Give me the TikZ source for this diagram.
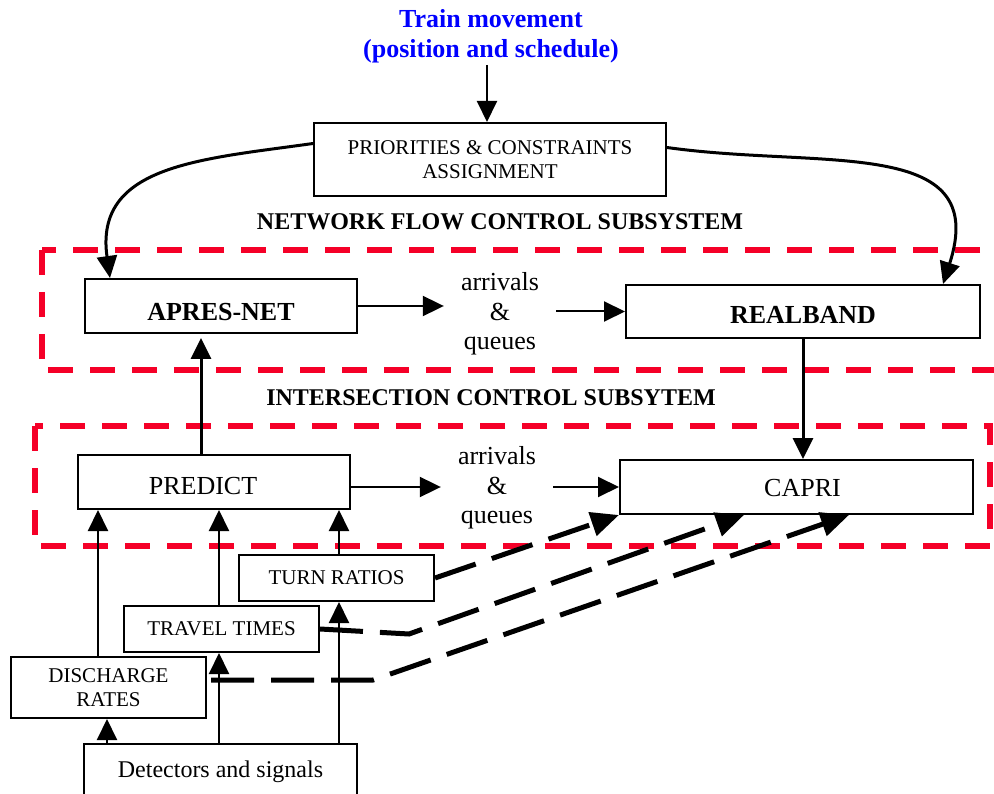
\documentclass[tikz,border=0pt]{standalone}
\usepackage{fontspec}
\setmainfont{Liberation Serif}
\usetikzlibrary{arrows.meta}
\definecolor{zonered}{RGB}{245,0,40}
\definecolor{titleblue}{RGB}{0,0,255}
% lower a label inside its box without changing the box size
\newcommand{\lowered}[2]{\raisebox{-#1}[\height][\depth]{#2}}
\begin{document}
\begin{tikzpicture}[x=1pt,y=-1pt,
  box/.style={draw,line width=2pt,inner sep=0pt,align=center,
    font=\fontsize{21}{24}\selectfont},
  bigbox/.style={box,font=\fontsize{26}{30}\selectfont},
  arr/.style={-{Triangle[length=21pt,width=20pt]},line width=2pt},
  thickarr/.style={arr,line width=3pt},
  curvearr/.style={-{Triangle[length=22pt,width=20pt]},line width=3pt},
  feed/.style={-{Triangle[length=28pt,width=24pt]},line width=5pt,
    dash pattern=on 43pt off 17pt},
  zone/.style={draw=zonered,line width=6pt,dash pattern=on 25pt off 17pt},
  flowtext/.style={align=center,inner sep=17pt,font=\fontsize{26}{29.5}\selectfont},
  heading/.style={font=\bfseries\fontsize{24}{28}\selectfont,inner sep=0pt}]
\useasboundingbox (0,0) rectangle (994,794);

% subsystem frames (clipped at the page edge)
\begin{scope}
  \clip (0,0) rectangle (994,794);
  \draw[zone] (42,250) rectangle (1000,370);
  \draw[zone] (35,426) rectangle (990,546);
  \node[box,font=\fontsize{24}{28}\selectfont,minimum width=273pt,minimum height=56pt]
    (detect) at (220.5,772) {Detectors and signals};
\end{scope}

% title
\node[align=center,text=titleblue,font=\bfseries\fontsize{26}{30}\selectfont,inner sep=2pt]
  (title) at (491,36) {Train movement\\(position and schedule)};

% boxes
\node[box,minimum width=352pt,minimum height=73pt] (prio) at (490,159.5)
  {PRIORITIES \& CONSTRAINTS\\ASSIGNMENT};
\node[heading] (nfcs) at (500,222) {NETWORK FLOW CONTROL SUBSYSTEM};
\node[bigbox,font=\bfseries\fontsize{26}{30}\selectfont,minimum width=272pt,minimum height=54pt]
  (apres) at (221,306) {\lowered{6pt}{APRES-NET}};
\node[bigbox,font=\bfseries\fontsize{26}{30}\selectfont,minimum width=354pt,minimum height=53pt]
  (realband) at (803,311.5) {\lowered{3pt}{REALBAND}};
\node[flowtext] (aq1) at (500,314) {arrivals\\\&\\queues};
\node[heading] (ics) at (491,398) {INTERSECTION CONTROL SUBSYTEM};
\node[bigbox,minimum width=272pt,minimum height=54pt] (predict) at (214,482)
  {\lowered{4pt}{PREDICT}\hspace*{22pt}};
\node[bigbox,minimum width=353pt,minimum height=54pt] (capri) at (796.5,487)
  {\hspace*{12pt}\lowered{1pt}{CAPRI}};
\node[flowtext] (aq2) at (497,488) {arrivals\\\&\\queues};
\node[box,minimum width=195pt,minimum height=46pt] (turn) at (336.5,578) {TURN RATIOS};
\node[box,minimum width=195pt,minimum height=46pt] (travel) at (221.5,629) {TRAVEL TIMES};
\node[box,minimum width=195pt,minimum height=61pt] (discharge) at (108.5,687.5)
  {DISCHARGE\\RATES};

% connector columns
\coordinate (colT) at (487,0);
\coordinate (colA) at (98,0);
\coordinate (colB) at (219,0);
\coordinate (colC) at (339,0);
\coordinate (colD) at (107,0);
\coordinate (colE) at (201,0);
\coordinate (tipL) at (110,0);
\coordinate (tipR) at (943,0);
\coordinate (tipT) at (744,0);
\coordinate (tipD) at (849,0);
\coordinate (bendT) at (409,634);
\coordinate (bendD) at (373,680);

% solid connectors
\draw[arr] (title.south -| colT) -- (prio.north -| colT);
\draw[curvearr] ([yshift=16pt]prio.west) to[out=188,in=98,looseness=1.2] (apres.north -| tipL);
\draw[curvearr] ([yshift=12pt]prio.east) to[out=-8,in=72,looseness=1.3] (realband.north -| tipR);
\draw[arr] (apres.east) -- (apres.east -| aq1.west);
\draw[arr] (aq1.east |- realband.west) -- (realband.west);
\draw[thickarr] (realband.south) -- (capri.north -| realband.south);
\draw[thickarr] (predict.north -| colE) -- ([yshift=-4pt]apres.south -| colE);
\draw[arr] (predict.east |- capri.west) -- (aq2.west |- capri.west);
\draw[arr] (aq2.east |- capri.west) -- (capri.west);
\draw[arr] (discharge.north -| colA) -- (predict.south -| colA);
\draw[arr] (travel.north -| colB) -- (predict.south -| colB);
\draw[arr] (turn.north -| colC) -- (predict.south -| colC);
\draw[arr] (detect.north -| colD) -- (discharge.south -| colD);
\draw[arr] (detect.north -| colB) -- (travel.south -| colB);
\draw[arr] (detect.north -| colC) -- (turn.south -| colC);

% measured data fed to CAPRI
\draw[feed] (turn.east) -- (capri.south west);
\draw[feed] (travel.east) -- (bendT) -- (capri.south -| tipT);
\draw[feed] ([xshift=4pt]discharge.east |- bendD) -- (bendD) -- (capri.south -| tipD);
\end{tikzpicture}
\end{document}
